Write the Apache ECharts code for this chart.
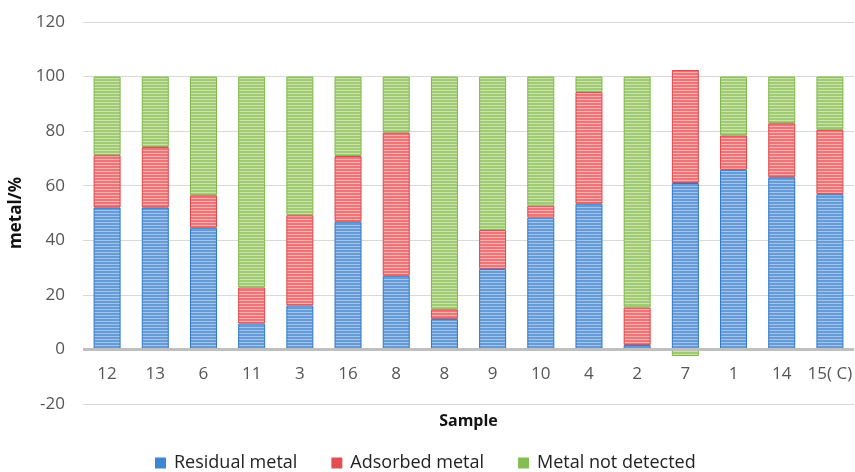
<!DOCTYPE html>
<html><head><meta charset="utf-8">
<script src="https://cdn.jsdelivr.net/npm/echarts@6/dist/echarts.min.js"></script>
<style>html,body{margin:0;padding:0;background:#fff}#c{width:855px;height:472px}</style>
</head><body><div id="c"></div>
<script>
const categories = ['12','13','6','11','3','16','8','8','9','10','4','2','7','1','14','15( C)'];
const residual = [52, 52, 44.6, 9.5, 16.1, 46.8, 27, 11.2, 29.5, 48.3, 53.4, 1.6, 61, 65.8, 63.1, 56.9];
const adsorbed = [19.2, 22.2, 11.9, 13.2, 33.1, 24.1, 52.5, 3.5, 14.3, 4.4, 41, 13.8, 41.4, 12.6, 19.8, 23.6];
const notDetected = [28.8, 25.8, 43.5, 77.3, 50.8, 29.1, 20.5, 85.3, 56.2, 47.3, 5.6, 84.6, -2.4, 21.6, 17.1, 19.5];
const seriesNames = ['Residual metal', 'Adsorbed metal', 'Metal not detected'];
const yTicks = {min: -20, max: 120, interval: 20};

function stripe(base, light) {
  const c = document.createElement('canvas');
  c.width = 4; c.height = 3;
  const g = c.getContext('2d');
  g.fillStyle = base; g.fillRect(0, 0, 4, 3);
  g.fillStyle = light; g.fillRect(0, 0, 4, 1);
  return {image: c, repeat: 'repeat'};
}
const styles = [
  {fill: stripe('#649bd8', '#a3c5ea'), border: '#2f78c8', legend: '#3f85d0'},
  {fill: stripe('#ed7477', '#f7b0b1'), border: '#e0474b', legend: '#e24f52'},
  {fill: stripe('#a1cb72', '#cbe3ad'), border: '#80b84c', legend: '#86bd52'}
];
const datas = [residual, adsorbed, notDetected];
const font = '"Open Sans", "DejaVu Sans", sans-serif';

const chart = echarts.init(document.getElementById('c'), null, {renderer: 'canvas'});
chart.setOption({
  animation: false,
  grid: {left: 83, right: 1, top: 22, bottom: 68, containLabel: false, outerBoundsMode: 'none'},
  legend: {
    top: 449, left: 150, itemWidth: 11, itemHeight: 11, itemGap: 34,
    icon: 'rect',
    textStyle: {fontFamily: font, fontSize: 18, color: '#222', padding: [0, 0, 0, 3]},
    data: seriesNames.map((n, i) => ({name: n, itemStyle: {color: styles[i].legend, borderWidth: 0}}))
  },
  xAxis: {
    type: 'category', data: categories,
    name: 'Sample', nameLocation: 'middle', nameGap: 9,
    nameTextStyle: {fontFamily: font, fontSize: 16, fontWeight: 'bold', color: '#111', verticalAlign: 'top'},
    axisLine: {show: false, onZero: false},
    axisTick: {show: false},
    axisLabel: {margin: -38, fontFamily: font, fontSize: 17, color: '#555', interval: 0}
  },
  yAxis: {
    type: 'value', min: yTicks.min, max: yTicks.max, interval: yTicks.interval,
    name: 'metal/%', nameLocation: 'middle', nameGap: 50,
    nameTextStyle: {fontFamily: font, fontSize: 17, fontWeight: 'bold', color: '#111'},
    axisLine: {show: false}, axisTick: {show: false},
    axisLabel: {margin: 18, fontFamily: font, fontSize: 17, color: '#555'},
    splitLine: {lineStyle: {color: '#d9d9d9', width: 1}}
  },
  series: seriesNames.map((n, i) => {
    const s = {
      name: n, type: 'bar', stack: 'total', barWidth: 27,
      data: datas[i],
      itemStyle: {color: styles[i].fill, borderColor: styles[i].border, borderWidth: 1}
    };
    if (i === 2) {
      s.markLine = {
        silent: true, symbol: 'none', label: {show: false},
        lineStyle: {color: '#bfbfbf', width: 3, type: 'solid'},
        data: [{yAxis: 0}]
      };
    }
    return s;
  })
});
</script></body></html>
